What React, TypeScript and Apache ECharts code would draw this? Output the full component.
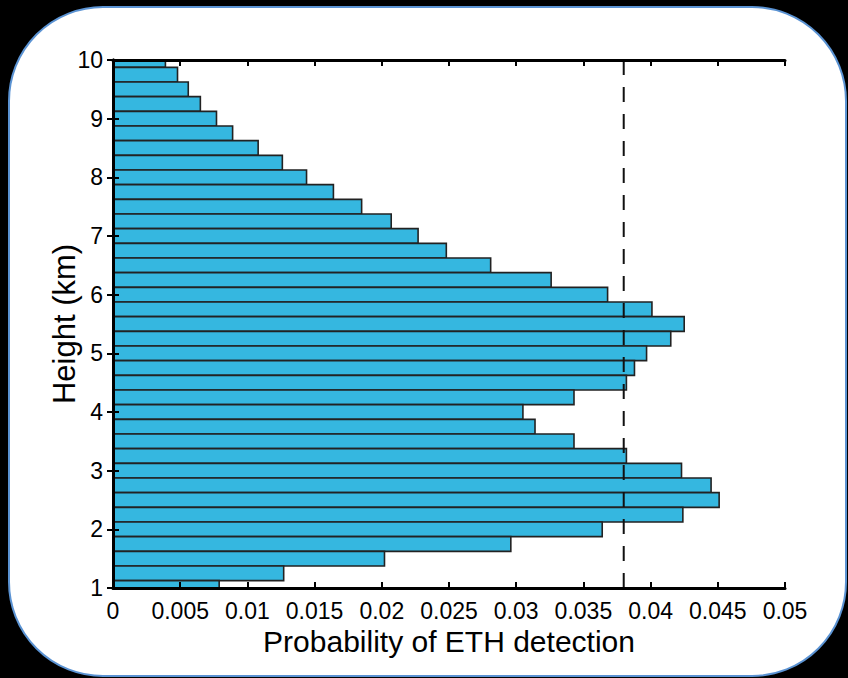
import { useEffect, useRef } from "react";
import * as echarts from "echarts";

// Height bins (km), centred on each bin, top to bottom
const HEIGHTS_KM = [
  10, 9.75, 9.5, 9.25, 9, 8.75, 8.5, 8.25, 8, 7.75, 7.5, 7.25, 7, 6.75, 6.5, 6.25,
  6, 5.75, 5.5, 5.25, 5, 4.75, 4.5, 4.25, 4, 3.75, 3.5, 3.25, 3, 2.75, 2.5, 2.25,
  2, 1.75, 1.5, 1.25, 1,
];

// Probability of ETH detection in each height bin
const DETECTION_PROB = [
  0.0039, 0.0048, 0.0056, 0.0065, 0.0077, 0.0089, 0.0108, 0.0126, 0.0144, 0.0164,
  0.0185, 0.0207, 0.0227, 0.0248, 0.0281, 0.0326, 0.0368, 0.0401, 0.0425, 0.0415,
  0.0397, 0.0388, 0.0382, 0.0343, 0.0305, 0.0314, 0.0343, 0.0382, 0.0423, 0.0445,
  0.0451, 0.0424, 0.0364, 0.0296, 0.0202, 0.0127, 0.0079,
];

const BIN_KM = 0.25;
const THRESHOLD = 0.038;

const X_MIN = 0;
const X_MAX = 0.05;
const X_STEP = 0.005;
const Y_MIN = 1;
const Y_MAX = 10;
const Y_STEP = 1;

const FONT = "'Liberation Sans', Arial, Helvetica, sans-serif";
const BAR_FILL = "#35b7e0";
const BAR_EDGE = "#222222";

export default function App() {
  const ref = useRef<HTMLDivElement>(null);

  useEffect(() => {
    if (!ref.current) return;
    const chart = echarts.init(ref.current, undefined, { renderer: "svg" });

    const barData = HEIGHTS_KM.map((h, i) => [DETECTION_PROB[i], h]);

    const axisLine = { show: true, lineStyle: { color: "#000", width: 3 } };
    const tickInside = { show: true, inside: true, length: 6, lineStyle: { color: "#000", width: 2 } };

    const xBase = {
      type: "value" as const,
      min: X_MIN,
      max: X_MAX,
      interval: X_STEP,
      z: 10,
      axisLine,
      axisTick: tickInside,
      splitLine: { show: false },
    };
    const yBase = {
      type: "value" as const,
      min: Y_MIN,
      max: Y_MAX,
      interval: Y_STEP,
      z: 10,
      axisLine,
      axisTick: tickInside,
      splitLine: { show: false },
    };

    chart.setOption({
      animation: false,
      backgroundColor: "transparent",
      textStyle: { fontFamily: FONT },
      grid: { left: 113, top: 60, width: 672, height: 528, containLabel: false },
      xAxis: [
        {
          ...xBase,
          position: "bottom",
          name: "Probability of ETH detection",
          nameLocation: "middle",
          nameGap: 38,
          nameMoveOverlap: false,
          nameTextStyle: { fontFamily: FONT, fontSize: 30, color: "#000" },
          axisLabel: {
            fontFamily: FONT,
            fontSize: 23,
            color: "#000",
            margin: 11,
            formatter: (v: number) => String(+v.toFixed(3)),
          },
        },
        { ...xBase, position: "top", axisLabel: { show: false } },
      ],
      yAxis: [
        {
          ...yBase,
          position: "left",
          name: "Height (km)",
          nameLocation: "middle",
          nameRotate: 90,
          nameGap: 33,
          nameMoveOverlap: false,
          nameTextStyle: { fontFamily: FONT, fontSize: 31, color: "#000" },
          axisLabel: { fontFamily: FONT, fontSize: 23, color: "#000", margin: 10 },
        },
        { ...yBase, position: "right", axisLabel: { show: false } },
      ],
      series: [
        {
          type: "custom",
          xAxisIndex: 0,
          yAxisIndex: 0,
          z: 2,
          encode: { x: 0, y: 1 },
          data: barData,
          renderItem: (params: any, api: any) => {
            const p = api.value(0);
            const h = api.value(1);
            const a = api.coord([0, h + BIN_KM / 2]);
            const b = api.coord([p, h - BIN_KM / 2]);
            const cs = params.coordSys;
            const shape = echarts.graphic.clipRectByRect(
              { x: a[0], y: a[1], width: b[0] - a[0], height: b[1] - a[1] },
              { x: cs.x, y: cs.y, width: cs.width, height: cs.height }
            );
            if (!shape) return null;
            return {
              type: "rect",
              shape,
              style: { fill: BAR_FILL, stroke: BAR_EDGE, lineWidth: 1.6 },
            };
          },
        },
        {
          type: "line",
          xAxisIndex: 0,
          yAxisIndex: 0,
          z: 5,
          symbol: "none",
          data: [
            [THRESHOLD, Y_MAX],
            [THRESHOLD, Y_MIN],
          ],
          lineStyle: { color: "#111", width: 2, type: [15, 12] },
        },
      ],
    });

    return () => chart.dispose();
  }, []);

  return (
    <div
      style={{
        position: "fixed",
        left: 0,
        top: 0,
        width: 848,
        height: 678,
        background: "#000",
        overflow: "hidden",
      }}
    >
      <div
        style={{
          position: "absolute",
          left: 8,
          top: 6,
          width: 839,
          height: 671,
          boxSizing: "border-box",
          background: "#fff",
          border: "2px solid #5b93d3",
          borderRadius: 95,
        }}
      />
      <div ref={ref} style={{ position: "absolute", left: 0, top: 0, width: 848, height: 678 }} />
    </div>
  );
}
